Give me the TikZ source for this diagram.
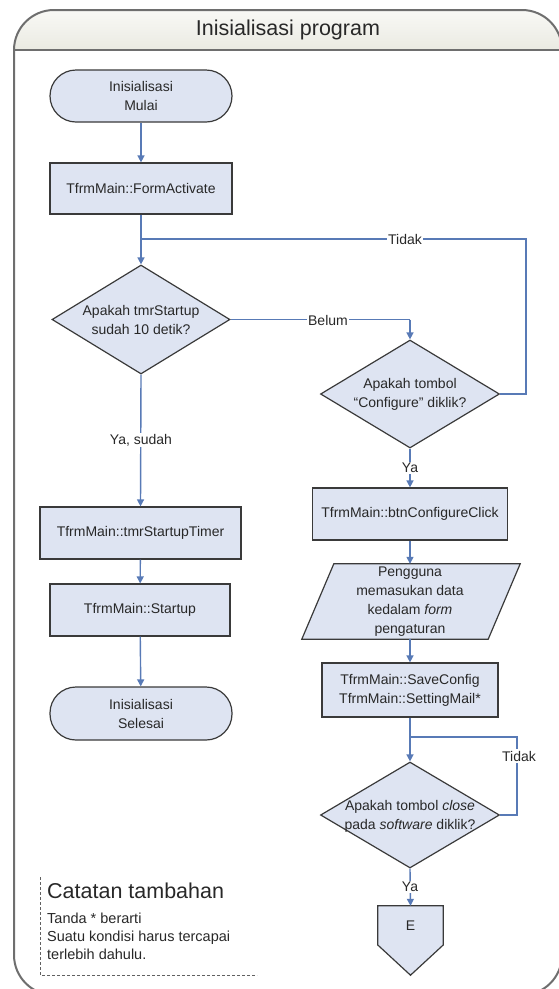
\documentclass[tikz,border=0pt]{standalone}
\usepackage{fontspec}
\setmainfont{Liberation Sans}
\usetikzlibrary{arrows.meta,shapes.geometric,calc}

\definecolor{nodefill}{RGB}{222,228,242}
\definecolor{nodeline}{RGB}{58,58,58}
\definecolor{flow}{RGB}{88,122,182}
\definecolor{framec}{RGB}{110,110,110}
\definecolor{hdrtop}{RGB}{252,252,250}
\definecolor{hdrbot}{RGB}{234,234,226}
\definecolor{txt}{RGB}{40,40,40}

\begin{document}
\begin{tikzpicture}[x=1pt,y=-1pt,
  txtfont/.style={font=\fontsize{14}{19}\selectfont, text=txt},
  shapebox/.style={draw=nodeline, fill=nodefill, line width=1.2pt, inner sep=0pt, txtfont, align=center},
  proc/.style={shapebox, rectangle},
  term/.style={shapebox, rectangle, rounded corners=26pt},
  dia/.style={shapebox, diamond},
  holder/.style={inner sep=0pt, rectangle},
  intext/.style={txtfont, align=center, inner sep=0pt},
  flowline/.style={draw=flow, line width=1.4pt},
  arr/.style={flowline, -{Triangle[width=7pt,length=7pt]}},
  lbl/.style={txtfont, fill=white, inner sep=1.5pt},
  notetext/.style={font=\fontsize{14.5}{18}\selectfont, text=txt, align=left, inner sep=0pt}
]
\useasboundingbox (0,0) rectangle (559,989);
\clip (0,0) rectangle (559,989);

% outer frame with shaded header band
\begin{scope}
  \clip[rounded corners=40pt] (14,500) -- (14,10) -- (562,10) -- (562,995) -- (14,995) -- cycle;
  \shade[top color=hdrtop, bottom color=hdrbot] (0,0) rectangle (570,50);
\end{scope}
\draw[framec, line width=2pt, rounded corners=40pt]
  (14,500) -- (14,10) -- (562,10) -- (562,995) -- (14,995) -- cycle;
\draw[framec, line width=2pt] (14,50) -- (562,50);
\node[font=\fontsize{21.5}{24}\selectfont, text=txt] (title) at (288,30) {Inisialisasi program};

% left column
\node[term, minimum width=182pt, minimum height=52pt] (start) at (141,96) {Inisialisasi\\Mulai};
\node[proc, minimum width=182pt, minimum height=51pt] (act) at (141,188.5) {TfrmMain::FormActivate};
\coordinate (j1) at (141,239);
\node[dia, minimum width=178pt, minimum height=109pt] (d1) at (141,319.5) {};
\node[intext] (d1t) at (d1) {Apakah tmrStartup\\sudah 10 detik?};
\node[proc, minimum width=201pt, minimum height=52pt] (tmr) at (140.5,533) {TfrmMain::tmrStartupTimer};
\node[proc, minimum width=180pt, minimum height=52pt] (stp) at (140,610) {TfrmMain::Startup};
\node[term, minimum width=182pt, minimum height=53pt] (fin) at (141,713.5) {Inisialisasi\\Selesai};

% right column
\node[dia, minimum width=179pt, minimum height=108pt] (d2) at (410,394) {};
\node[intext] (d2t) at (d2) {Apakah tombol\\“Configure” diklik?};
\node[proc, minimum width=195pt, minimum height=52pt] (btn) at (410,514) {TfrmMain::btnConfigureClick};
\node[holder, minimum width=218pt, minimum height=75pt] (para) at (411,601.5) {};
\filldraw[draw=nodeline, fill=nodefill, line width=1.2pt]
  ([xshift=32pt]para.north west) -- (para.north east) -- ([xshift=-32pt]para.south east) -- (para.south west) -- cycle;
\node[intext] (parat) at (410,602) {Pengguna\\memasukan data\\kedalam \textit{form}\\pengaturan};
\node[proc, minimum width=176pt, minimum height=54pt] (save) at (410,690) {TfrmMain::SaveConfig\\TfrmMain::SettingMail*};
\coordinate (j2) at (410,737);
\node[dia, minimum width=179pt, minimum height=106pt] (d3) at (410,815) {};
\node[intext] (d3t) at (410,816) {Apakah tombol \textit{close}\\pada \textit{software} diklik?};
\node[holder, minimum width=65pt, minimum height=69pt] (off) at (410.5,940.5) {};
\filldraw[draw=nodeline, fill=nodefill, line width=1.2pt]
  (off.north west) -- (off.north east) -- (off.east |- 0,945) -- (off.south) -- (off.west |- 0,945) -- cycle;
\node[intext] (offt) at (410.5,926) {E};

% connectors
\draw[arr] (start) -- (act);
\draw[flowline] (act) -- (j1);
\draw[arr] (j1) -- (d1.north);
\draw[flowline] (d2.east) -- (526,394) |- (j1);
\node[lbl] (ltidak1) at (405,239) {Tidak};
\draw[flowline] (d1.east) -- (d1.east -| d2.north) coordinate (b1);
\draw[arr] (b1) -- (d2.north);
\node[lbl] (lbelum) at (328,320) {Belum};
\draw[arr] (d1.south) -- (tmr.north);
\node[lbl] (lyasudah) at (141,440) {Ya, sudah};
\draw[arr] (tmr) -- (stp);
\draw[arr] (stp) -- (fin);
\draw[arr] (d2.south) -- (btn.north);
\node[lbl] (lya1) at (410,468) {Ya};
\draw[arr] (btn.south) -- (btn.south |- para.north);
\draw[arr] (btn.south |- para.south) -- (save.north);
\draw[flowline] (save.south) -- (j2);
\draw[arr] (j2) -- (d3.north);
\draw[flowline] (d3.east) -- (517,815) |- (j2);
\node[lbl] (ltidak2) at (519,756) {Tidak};
\draw[arr] (d3.south) -- (off.north);
\node[lbl] (lya2) at (410,887) {Ya};

% side note
\draw[nodeline!80, line width=1pt, dash pattern=on 3pt off 2pt] (40,877) -- (40,975) -- (257,975);
\node[font=\fontsize{21.5}{24}\selectfont, text=txt, anchor=west, inner sep=0pt] (notehead) at (47,891) {Catatan tambahan};
\node[notetext, anchor=north west] (notebody) at (47,913) {Tanda * berarti\\Suatu kondisi harus tercapai\\terlebih dahulu.};
\end{tikzpicture}
\end{document}
